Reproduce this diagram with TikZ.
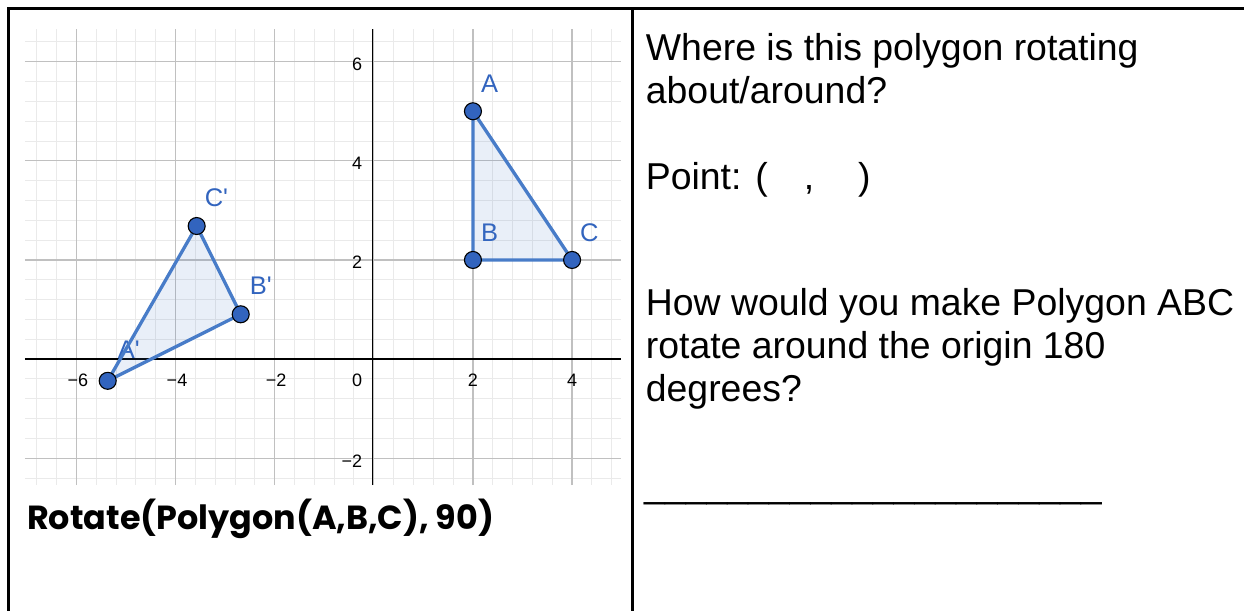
\documentclass[tikz,border=0pt]{standalone}
\usepackage{fontspec}
\setmainfont{Liberation Sans}
\newfontfamily\cmdfont{Poppins}
\usepackage{tikz}
\usetikzlibrary{positioning}

\definecolor{geoline}{RGB}{72,124,200}
\definecolor{geodot}{RGB}{50,100,190}
\definecolor{majorgrid}{RGB}{192,192,192}
\definecolor{minorgrid}{RGB}{234,234,234}

\begin{document}
\begin{tikzpicture}[x=1pt, y=-1pt,
    frame/.style={line width=2.7pt, black},
    question/.style={anchor=base west, inner sep=0pt, font=\fontsize{37.4}{43}\selectfont},
    ticklabel/.style={inner sep=0pt, font=\fontsize{18}{20}\selectfont},
    ptlabel/.style={anchor=base west, inner sep=0pt, text=geodot, font=\fontsize{25.5}{28}\selectfont},
    vertex/.style={circle, draw=black, line width=1.1pt, fill=geodot, minimum size=17pt, inner sep=0pt},
    side/.style={draw=geoline, line width=3.3pt, line join=round, fill=geoline, fill opacity=0.12}]

  \useasboundingbox (0,0) rectangle (1244,611);

  % table
  \draw[frame] (7.4,8.7) -- (1244,8.7);
  \draw[frame] (8.7,8.7) -- (8.7,611);
  \draw[frame] (632.5,8.7) -- (632.5,611);

  % graph
  \begin{scope}[shift={(373.8,359.1)}, x=49.57pt, y=49.57pt]
    \draw[minorgrid, line width=1pt, step=0.4] (-7.04,-2.54) grid (4.98,6.66);
    \draw[majorgrid, line width=1.2pt, step=2] (-7.04,-2.54) grid (4.98,6.66);
    \draw[line width=1.3pt] (-7.04,0) -- (4.98,0);
    \draw[line width=1.3pt] (-0.02,-2.54) -- (-0.02,6.66);

    \node[ticklabel, anchor=east] (y6) at (-0.23,5.95) {6};
    \node[ticklabel, anchor=east] (y4) at (-0.23,3.95) {4};
    \node[ticklabel, anchor=east] (y2) at (-0.23,1.95) {2};
    \node[ticklabel, anchor=east] (ym2) at (-0.23,-2.05) {−2};
    \node[ticklabel, anchor=east] (x0) at (-0.23,-0.43) {0};
    \node[ticklabel] (xm6) at (-5.97,-0.43) {−6};
    \node[ticklabel] (xm4) at (-3.97,-0.43) {−4};
    \node[ticklabel] (xm2) at (-1.97,-0.43) {−2};
    \node[ticklabel] (x2) at (2,-0.43) {2};
    \node[ticklabel] (x4) at (4,-0.43) {4};

    \path (2,5) coordinate (A) (2,2) coordinate (B) (4,2) coordinate (C);
    \path (-5.368,-0.438) coordinate (A1) (-2.685,0.904) coordinate (B1)
          (-3.573,2.685) coordinate (C1);

    \node[ptlabel] (labA) at ([shift={(0.16,0.37)}]A) {A};
    \node[ptlabel] (labB) at ([shift={(0.16,0.37)}]B) {B};
    \node[ptlabel] (labC) at ([shift={(0.16,0.37)}]C) {C};
    \node[ptlabel] (labA1) at ([shift={(0.2,0.45)}]A1) {A\textquotesingle};
    \node[ptlabel] (labB1) at ([shift={(0.18,0.4)}]B1) {B\textquotesingle};
    \node[ptlabel] (labC1) at ([shift={(0.16,0.39)}]C1) {C\textquotesingle};

    \filldraw[side] (A) -- (B) -- (C) -- cycle;
    \filldraw[side] (A1) -- (B1) -- (C1) -- cycle;

    \node[vertex] (vA) at (A) {};
    \node[vertex] (vB) at (B) {};
    \node[vertex] (vC) at (C) {};
    \node[vertex] (vA1) at (A1) {};
    \node[vertex] (vB1) at (B1) {};
    \node[vertex] (vC1) at (C1) {};
  \end{scope}

  \node[anchor=base west, inner sep=0pt, font=\cmdfont\bfseries\fontsize{33.4}{40}\selectfont]
    (cmd) at (27,529) {Rotate(Polygon(A,B,C), 90)};

  % questions
  \node[question] (where1) at (645.7,60.4) {Where is this polygon rotating};
  \node[question] (where2) at (645.7,103.3) {about/around?};
  \node[question] (point) at (645.7,189) {Point: (\hspace{36pt},\hspace{44pt})};
  \node[question] (how1) at (645.7,315.7) {How would you make Polygon ABC};
  \node[question] (how2) at (645.7,358.5) {rotate around the origin 180};
  \node[question] (how3) at (645.7,401.4) {degrees?};
  \node[question] (blank) at (644,497) {\_\_\_\_\_\_\_\_\_\_\_\_\_\_\_\_\_\_\_\_\_\_};
\end{tikzpicture}
\end{document}
